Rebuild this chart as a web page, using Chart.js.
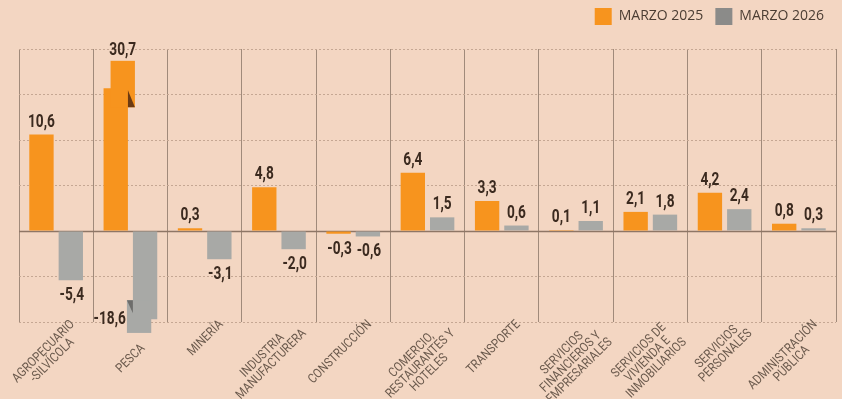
<!DOCTYPE html>
<html lang="es">
<head>
<meta charset="utf-8">
<script src="https://cdn.jsdelivr.net/npm/chart.js@4.4.0/dist/chart.umd.min.js"></script>
<style>
  html, body { margin: 0; padding: 0; background: #f3d6c2; }
  #wrap { width: 842px; height: 399px; }
</style>
</head>
<body>
<div id="wrap"><canvas id="chart" width="842" height="399"></canvas></div>
<script>
const categories = [
  ['AGROPECUARIO', '-SILVÍCOLA'],
  ['PESCA'],
  ['MINERÍA'],
  ['INDUSTRIA', 'MANUFACTURERA'],
  ['CONSTRUCCIÓN'],
  ['COMERCIO,', 'RESTAURANTES Y', 'HOTELES'],
  ['TRANSPORTE'],
  ['SERVICIOS', 'FINANCIEROS Y', 'EMPRESARIALES'],
  ['SERVICIOS DE', 'VIVIENDA E', 'INMOBILIARIOS'],
  ['SERVICIOS', 'PERSONALES'],
  ['ADMINISTRACIÓN', 'PÚBLICA']
];
const seriesNames = ['MARZO 2025', 'MARZO 2026'];
const marzo2025 = [10.6, 30.7, 0.3, 4.8, -0.3, 6.4, 3.3, 0.1, 2.1, 4.2, 0.8];
const marzo2026 = [-5.4, -18.6, -3.1, -2.0, -0.6, 1.5, 0.6, 1.1, 1.8, 2.4, 0.3];
const yTicks = [-10, -5, 0, 5, 10, 15, 20];

// bars that don't fit the axis are drawn cut, with a shifted piece (scale values)
const breaks = [
  { dataset: 0, index: 1, cut: 15.7, from: 13.6, to: 18.7, shift: 7 },
  { dataset: 1, index: 1, cut: -9.7, from: -7.6, to: -11.2, shift: -6 }
];

const barColors = ['#f7941e', '#a8a9a6'];
const legendColors = ['#f7941e', '#8b8b89'];
const foldColors = ['#6b3a12', '#6d6d6b'];
const labelColor = '#3b2a1f';
const axisTextColor = '#6b5a4d';
const valueFont = 'bold 19px Roboto, sans-serif';
const catFont = '13px Roboto, sans-serif';

function fmt(v) {
  return v.toFixed(1).replace('.', ',');
}

function findBreak(d, i) {
  return breaks.find(b => b.dataset === d && b.index === i);
}

// narrow text: the original uses a condensed face
function narrowText(ctx, text, x, y, align, sx) {
  ctx.save();
  ctx.translate(x, y);
  ctx.scale(sx, 1);
  ctx.textAlign = align;
  ctx.fillText(text, 0, 0);
  ctx.restore();
}

const brokenBars = {
  id: 'brokenBars',
  afterDatasetsUpdate(chart) {
    const y = chart.scales.y;
    breaks.forEach(b => {
      const el = chart.getDatasetMeta(b.dataset).data[b.index];
      el.y = y.getPixelForValue(b.cut);
    });
  },
  afterDatasetsDraw(chart) {
    const ctx = chart.ctx;
    const y = chart.scales.y;
    ctx.save();
    breaks.forEach(b => {
      const el = chart.getDatasetMeta(b.dataset).data[b.index];
      const w = el.width;
      const left = el.x - w / 2 + b.shift;
      const pFrom = y.getPixelForValue(b.from);
      const pTo = y.getPixelForValue(b.to);
      const pCut = y.getPixelForValue(b.cut);
      ctx.fillStyle = barColors[b.dataset];
      ctx.fillRect(left, Math.min(pFrom, pTo), w, Math.abs(pTo - pFrom));
      ctx.fillStyle = foldColors[b.dataset];
      ctx.beginPath();
      if (b.to > 0) {
        const edge = el.x + w / 2;
        ctx.moveTo(edge, pCut + 2);
        ctx.lineTo(edge, pFrom);
        ctx.lineTo(edge + b.shift, pFrom);
      } else {
        const edge = el.x - w / 2;
        ctx.moveTo(edge, pCut - 6);
        ctx.lineTo(edge, pFrom);
        ctx.lineTo(edge + b.shift, pFrom);
      }
      ctx.closePath();
      ctx.fill();
    });
    ctx.restore();
  }
};

const zeroLine = {
  id: 'zeroLine',
  beforeDatasetsDraw(chart) {
    const ctx = chart.ctx;
    const a = chart.chartArea;
    const y0 = Math.round(chart.scales.y.getPixelForValue(0)) + 0.5;
    ctx.save();
    ctx.strokeStyle = '#8e7666';
    ctx.lineWidth = 1.5;
    ctx.beginPath();
    ctx.moveTo(a.left, y0);
    ctx.lineTo(a.right, y0);
    ctx.stroke();
    ctx.restore();
  }
};

const valueLabels = {
  id: 'valueLabels',
  afterDatasetsDraw(chart) {
    const ctx = chart.ctx;
    const y = chart.scales.y;
    const sx = 0.72;
    ctx.save();
    ctx.font = valueFont;
    ctx.fillStyle = labelColor;
    ctx.textBaseline = 'alphabetic';
    chart.data.datasets.forEach((ds, d) => {
      chart.getDatasetMeta(d).data.forEach((el, i) => {
        const v = ds.data[i];
        const b = findBreak(d, i);
        if (b && v > 0) {
          narrowText(ctx, fmt(v), el.x + b.shift, y.getPixelForValue(b.to) - 6, 'center', sx);
        } else if (b) {
          narrowText(ctx, fmt(v), el.x - el.width / 2 + b.shift - 1, y.getPixelForValue(b.cut) + 5, 'right', sx);
        } else if (v >= 0) {
          narrowText(ctx, fmt(v), el.x, el.y - 8, 'center', sx);
        } else {
          narrowText(ctx, fmt(v), el.x + 1, el.y + 20, 'center', sx);
        }
      });
    });
    ctx.restore();
  }
};

const categoryLabels = {
  id: 'categoryLabels',
  afterDraw(chart) {
    const ctx = chart.ctx;
    const x = chart.scales.x;
    const y = chart.scales.y;
    const bottom = chart.chartArea.bottom;
    const sx = 0.86;
    ctx.save();
    ctx.font = catFont;
    ctx.fillStyle = axisTextColor;
    ctx.textAlign = 'center';
    ctx.textBaseline = 'top';
    categories.forEach((lines, i) => {
      const cx = x.getPixelForValue(i);
      const W = Math.max(...lines.map(l => ctx.measureText(l).width));
      let ay = bottom - 4;
      let ax = cx + 12;
      breaks.filter(b => b.index === i && b.to < 0).forEach(b => {
        const low = y.getPixelForValue(b.to);
        if (low > bottom) { ay = low + 9; ax = cx + 8; }
      });
      ctx.save();
      ctx.translate(ax, ay);
      ctx.rotate(-Math.PI / 4);
      ctx.scale(sx, 1);
      lines.forEach((l, k) => ctx.fillText(l, -W / 2, k * 12.5));
      ctx.restore();
    });
    ctx.restore();
  }
};

const chart = new Chart(document.getElementById('chart'), {
  type: 'bar',
  data: {
    labels: categories.map(c => c.join(' ')),
    datasets: [
      { label: seriesNames[0], data: marzo2025, backgroundColor: barColors[0] },
      { label: seriesNames[1], data: marzo2026, backgroundColor: barColors[1] }
    ]
  },
  options: {
    responsive: false,
    animation: false,
    events: [],
    datasets: {
      bar: { categoryPercentage: 0.79, barPercentage: 0.83 }
    },
    layout: { padding: { left: 19, right: 6, top: -4, bottom: 77 } },
    plugins: {
      tooltip: { enabled: false },
      // empty title only keeps room between legend and plot
      title: { display: true, text: '', padding: 0, font: { size: 14, lineHeight: 1 } },
      legend: {
        position: 'top',
        align: 'end',
        weight: 3000,
        labels: {
          boxWidth: 17,
          boxHeight: 17,
          padding: 12,
          color: '#4b3d33',
          font: { family: '"Open Sans", sans-serif', size: 14 },
          generateLabels: () => seriesNames.map((n, i) => ({
            text: n,
            fillStyle: legendColors[i],
            strokeStyle: legendColors[i],
            lineWidth: 0,
            hidden: false,
            datasetIndex: i,
            fontColor: '#4b3d33'
          }))
        }
      }
    },
    scales: {
      x: {
        grid: { color: '#a08a7a', lineWidth: 1, offset: true, drawTicks: false },
        border: { display: false },
        ticks: { display: false }
      },
      y: {
        min: -10,
        max: 20,
        afterBuildTicks: axis => { axis.ticks = yTicks.map(v => ({ value: v })); },
        grid: { color: '#c5a793', lineWidth: 1, drawTicks: false },
        border: { display: false, dash: [2, 2] },
        ticks: { display: false }
      }
    }
  },
  plugins: [zeroLine, brokenBars, valueLabels, categoryLabels]
});
</script>
</body>
</html>
